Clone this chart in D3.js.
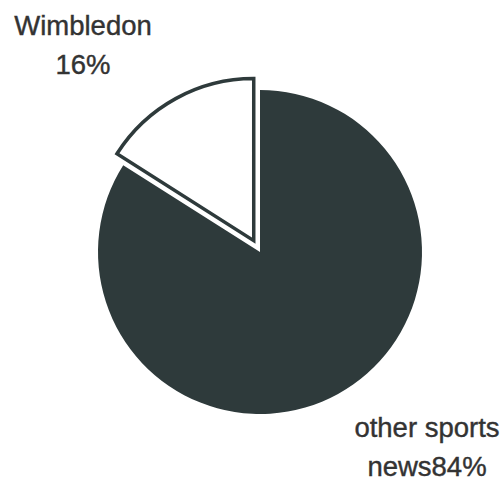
<!DOCTYPE html>
<html>
<head>
<meta charset="utf-8">
<script src="https://cdn.jsdelivr.net/npm/d3@7"></script>
<style>
  body { margin: 0; background: #fff; }
  svg { display: block; }
  text { font-family: "Liberation Sans", Arial, sans-serif; fill: #333; stroke: #333; stroke-width: 0.4; }
</style>
</head>
<body>
<svg class="chart" width="504" height="481"></svg>
<script>
// data
var categories = ["other sports news", "Wimbledon"];
var values = [84, 16];
var labelLines = [["other sports", "news84%"], ["Wimbledon", "16%"]];

var svg = d3.select(".chart");
var cx = 260, cy = 252, radius = 162;

var colors = ["#2e3a3b", "#ffffff"];

var pie = d3.pie().sort(null).value(function (d) { return d; });
var arc = d3.arc().innerRadius(0).outerRadius(radius);

var g = svg.append("g").attr("transform", "translate(" + cx + "," + cy + ")");

var slices = pie(values);

g.selectAll("path")
  .data(slices)
  .enter()
  .append("path")
  .attr("d", arc)
  .attr("fill", function (d, i) { return colors[i]; })
  .attr("stroke", function (d, i) { return i == 1 ? "#2e3a3b" : "none"; })
  .attr("stroke-width", 3.5)
  .attr("stroke-linejoin", "miter")
  .attr("transform", function (d, i) {
    if (i != 1) return null;
    // pull the small slice out from the centre
    var mid = (d.startAngle + d.endAngle) / 2;
    var off = 13;
    return "translate(" + (Math.sin(mid) * off) + "," + (-Math.cos(mid) * off) + ")";
  });

// labels
var labelPos = [[427, 437], [83, 35]];
slices.forEach(function (d, i) {
  var t = svg.append("text")
    .attr("x", labelPos[i][0])
    .attr("y", labelPos[i][1])
    .attr("text-anchor", "middle")
    .attr("font-size", "27.5px");
  labelLines[i].forEach(function (line, j) {
    t.append("tspan")
      .attr("x", labelPos[i][0])
      .attr("dy", j == 0 ? 0 : 39)
      .text(line);
  });
});
</script>
</body>
</html>
